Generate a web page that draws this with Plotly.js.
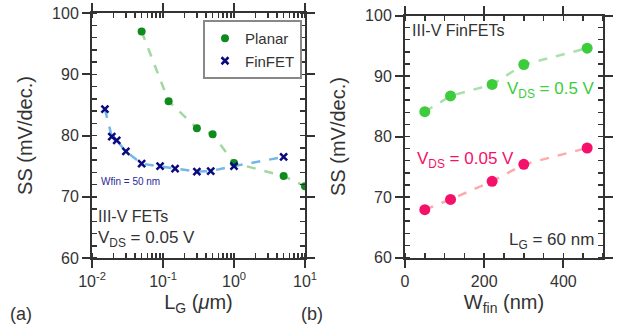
<!DOCTYPE html>
<html>
<head>
<meta charset="utf-8">
<script src="https://cdn.plot.ly/plotly-3.0.1.min.js"></script>
<style>html,body{margin:0;padding:0;background:#fff;}#chart{width:621px;height:331px;}</style>
</head>
<body>
<div id="chart"></div>
<script>
// Panel (a): SS vs gate length
const planarLg = [0.05, 0.12, 0.3, 0.5, 1.0, 5, 10];
const planarSS = [97.0, 85.6, 81.2, 80.2, 75.5, 73.4, 71.7];
const finfetLg = [0.0152, 0.019, 0.0223, 0.030, 0.050, 0.091, 0.148, 0.30, 0.47, 1.0, 5];
const finfetSS = [84.3, 79.8, 79.2, 77.4, 75.4, 75.0, 74.6, 74.1, 74.2, 75.0, 76.5];
// Panel (b): SS vs fin width
const wfin = [50, 115, 220, 300, 460];
const ssVds05 = [84.1, 86.7, 88.6, 91.9, 94.6];
const ssVds005 = [67.9, 69.6, 72.6, 75.4, 78.1];
const logTickVals = [0.01, 0.1, 1, 10];
const logTickText = ['10<sup>-2</sup>', '10<sup>-1</sup>', '10<sup>0</sup>', '10<sup>1</sup>'];

const W = 621, H = 331;
const px = x => x / W, py = y => 1 - y / H;
const FONT = 'Liberation Sans';
const TXT = '#333';

const traces = [
  {x: planarLg, y: planarSS, mode: 'lines', line: {color: 'rgba(120,200,120,0.7)', width: 2.5, dash: 'dash'}, showlegend: false, hoverinfo: 'skip', xaxis: 'x', yaxis: 'y'},
  {x: finfetLg, y: finfetSS, mode: 'lines', line: {color: 'rgba(90,170,230,0.85)', width: 2.5, dash: 'dash'}, showlegend: false, hoverinfo: 'skip', xaxis: 'x', yaxis: 'y'},
  {x: planarLg, y: planarSS, mode: 'markers', name: 'Planar', marker: {color: '#0e8a1e', size: 8, symbol: 'circle'}, xaxis: 'x', yaxis: 'y'},
  {x: finfetLg, y: finfetSS, mode: 'markers', name: 'FinFET', marker: {color: '#0a0a80', size: 7, symbol: 'x-thin', line: {color: '#0a0a80', width: 2.5}}, xaxis: 'x', yaxis: 'y'},
  {x: wfin, y: ssVds05, mode: 'lines+markers', showlegend: false, line: {color: 'rgba(170,225,170,1)', width: 2.5, dash: 'dash'}, marker: {color: '#3ccc3c', size: 11}, xaxis: 'x2', yaxis: 'y2'},
  {x: wfin, y: ssVds005, mode: 'lines+markers', showlegend: false, line: {color: 'rgba(255,170,170,1)', width: 2.5, dash: 'dash'}, marker: {color: '#f5106a', size: 11}, xaxis: 'x2', yaxis: 'y2'}
];

const axBase = {
  showline: true, linecolor: '#333', linewidth: 2, mirror: 'allticks',
  ticks: 'outside', ticklen: 8, tickwidth: 2, tickcolor: '#333',
  showgrid: false, zeroline: false,
  tickfont: {family: FONT, size: 16, color: TXT}
};

const layout = {
  width: W, height: H,
  margin: {l: 0, r: 0, t: 0, b: 0},
  paper_bgcolor: '#fff', plot_bgcolor: '#fff',
  font: {family: FONT, color: TXT},
  showlegend: true,
  legend: {x: px(203), y: py(20), xanchor: 'left', yanchor: 'top', bordercolor: '#888', borderwidth: 2,
           font: {family: FONT, size: 15, color: TXT}, bgcolor: '#fff', tracegroupgap: 0, itemwidth: 30},
  xaxis: Object.assign({}, axBase, {
    domain: [px(92), px(305)], type: 'log', range: [-2, 1],
    tickvals: logTickVals, ticktext: logTickText,
    minor: {ticks: 'inside', ticklen: 5, tickwidth: 1.5, tickcolor: '#333', dtick: 'D1'},
    title: {text: 'L<sub>G</sub> (<i>μ</i>m)', font: {family: FONT, size: 20, color: TXT}, standoff: 6},
    anchor: 'y'
  }),
  yaxis: Object.assign({}, axBase, {
    domain: [py(258), py(13)], range: [60, 100], tickvals: [60, 70, 80, 90, 100],
    minor: {ticks: 'inside', ticklen: 5, tickwidth: 1.5, tickcolor: '#333', dtick: 2},
    title: {text: 'SS (mV/dec.)', font: {family: FONT, size: 20, color: TXT}, standoff: 14},
    anchor: 'x'
  }),
  xaxis2: Object.assign({}, axBase, {
    domain: [px(405), px(603)], range: [0, 500], tickvals: [0, 200, 400],
    minor: {ticks: 'inside', ticklen: 5, tickwidth: 1.5, tickcolor: '#333', dtick: 50},
    title: {text: 'W<sub>fin</sub> (nm)', font: {family: FONT, size: 20, color: TXT}, standoff: 6},
    anchor: 'y2'
  }),
  yaxis2: Object.assign({}, axBase, {
    domain: [py(257.5), py(15.5)], range: [60, 100], tickvals: [60, 70, 80, 90, 100],
    minor: {ticks: 'inside', ticklen: 5, tickwidth: 1.5, tickcolor: '#333', dtick: 2},
    title: {text: 'SS (mV/dec.)', font: {family: FONT, size: 20, color: TXT}, standoff: 14},
    anchor: 'x2'
  }),
  annotations: [
    {text: 'Wfin = 50 nm', x: px(99), y: py(181), xref: 'paper', yref: 'paper', xanchor: 'left', yanchor: 'middle', showarrow: false, font: {family: FONT, size: 10, color: '#2a2a9a'}},
    {text: 'III-V FETs', x: px(96), y: py(216), xref: 'paper', yref: 'paper', xanchor: 'left', yanchor: 'middle', showarrow: false, font: {family: FONT, size: 16, color: TXT}},
    {text: 'V<sub>DS</sub> = 0.05 V', x: px(96), y: py(239), xref: 'paper', yref: 'paper', xanchor: 'left', yanchor: 'middle', showarrow: false, font: {family: FONT, size: 17, color: TXT}},
    {text: 'III-V FinFETs', x: px(410), y: py(30), xref: 'paper', yref: 'paper', xanchor: 'left', yanchor: 'middle', showarrow: false, font: {family: FONT, size: 16, color: TXT}},
    {text: 'V<sub>DS</sub> = 0.5 V', x: px(505), y: py(90), xref: 'paper', yref: 'paper', xanchor: 'left', yanchor: 'middle', showarrow: false, font: {family: FONT, size: 17, color: '#3ccc3c'}},
    {text: 'V<sub>DS</sub> = 0.05 V', x: px(415), y: py(160), xref: 'paper', yref: 'paper', xanchor: 'left', yanchor: 'middle', showarrow: false, font: {family: FONT, size: 17, color: '#f5106a'}},
    {text: 'L<sub>G</sub> = 60 nm', x: px(596), y: py(241), xref: 'paper', yref: 'paper', xanchor: 'right', yanchor: 'middle', showarrow: false, font: {family: FONT, size: 17, color: TXT}},
    {text: '(a)', x: px(8), y: py(314), xref: 'paper', yref: 'paper', xanchor: 'left', yanchor: 'middle', showarrow: false, font: {family: FONT, size: 18, color: TXT}},
    {text: '(b)', x: px(299), y: py(314), xref: 'paper', yref: 'paper', xanchor: 'left', yanchor: 'middle', showarrow: false, font: {family: FONT, size: 18, color: TXT}}
  ]
};

Plotly.newPlot('chart', traces, layout, {displayModeBar: false, staticPlot: true});
</script>
</body>
</html>
